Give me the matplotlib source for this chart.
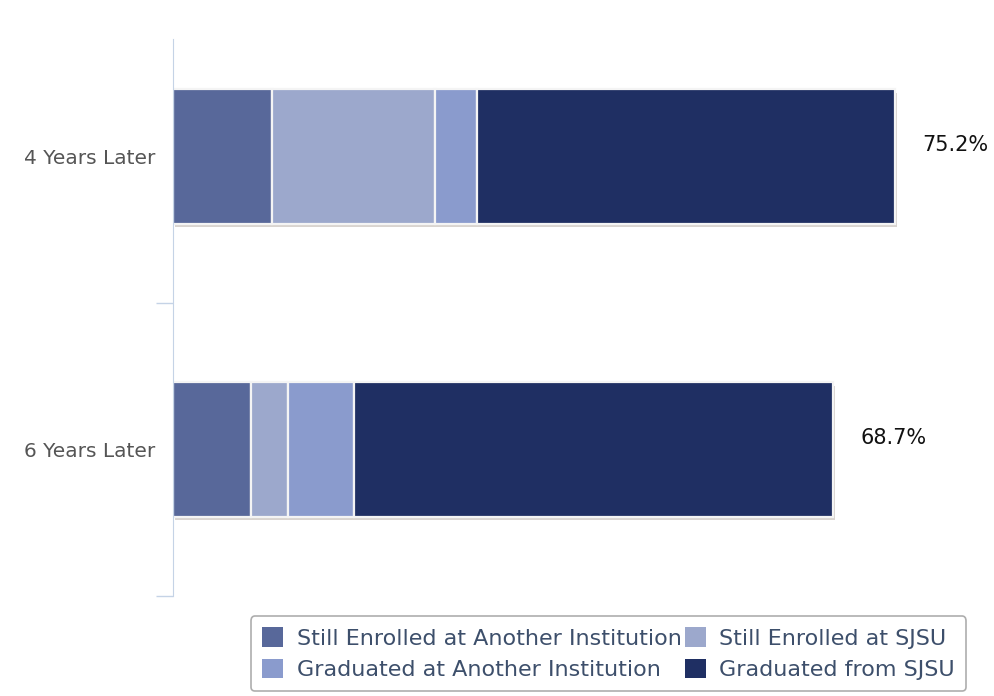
import matplotlib
matplotlib.use("Agg")
import matplotlib.pyplot as plt
from matplotlib.patches import Patch
import numpy as np

categories = ["4 Years Later", "6 Years Later"]
series_names = ["Still Enrolled at Another Institution", "Still Enrolled at SJSU",
                "Graduated at Another Institution", "Graduated from SJSU"]
still_another = [10.3, 8.1]
still_sjsu = [17.0, 3.9]
grad_another = [4.4, 6.9]
grad_sjsu = [43.5, 49.8]
totals = [75.2, 68.7]
total_labels = ["75.2%", "68.7%"]
colors = ["#58689a", "#9ca8cc", "#8a9bcd", "#1f2f63"]

fig = plt.figure(figsize=(9.95, 6.96), dpi=100)
ax = fig.add_axes([173/995, 100/696, 822/995, 586/696])

y = np.arange(len(categories))
series = [still_another, still_sjsu, grad_another, grad_sjsu]
left = np.zeros(len(categories))
bh = 0.46
for vals, c, name in zip(series, colors, series_names):
    vals = np.array(vals)
    # subtle shadow
    ax.barh(y + 0.012, vals, left=left + 0.25, height=bh, color="#d9d4d0",
            edgecolor="none", zorder=1)
    ax.barh(y, vals, left=left, height=bh, color=c, edgecolor="#f4f4f4",
            linewidth=1.6, zorder=2, label=name)
    left += vals

for yi, t, lab in zip(y, totals, total_labels):
    ax.annotate(lab, xy=(t, yi), xytext=(20, 8), textcoords="offset points",
                ha="left", va="center", fontsize=15, color="#111111")

ax.set_xlim(0, 822/9.6)
ax.set_ylim(1.5, -0.5)
ax.set_yticks(y)
ax.set_yticklabels(categories, fontsize=14.5, color="#555555")
ax.set_yticks([0.5, 1.5], minor=True)
ax.tick_params(axis="y", which="major", length=0, pad=13)
ax.tick_params(axis="y", which="minor", length=12, color="#c5d3e6", width=1)
ax.set_xticks([])
for s in ["top", "right", "bottom"]:
    ax.spines[s].set_visible(False)
ax.spines["left"].set_color("#c5d3e6")
ax.spines["left"].set_bounds(1.5, -0.4)

order = [0, 2, 1, 3]
handles = [Patch(facecolor=colors[i], edgecolor="none") for i in order]
leg = fig.legend(handles, [series_names[i] for i in order],
                 ncol=2, loc="lower right", bbox_to_anchor=(966/995, 5/696),
                 fontsize=16, frameon=True, fancybox=True, edgecolor="#999999",
                 handlelength=0.95, handleheight=0.95, handletextpad=0.6,
                 columnspacing=0.15, labelspacing=0.45, borderpad=0.5,
                 borderaxespad=0)
for t in leg.get_texts():
    t.set_color("#3d4f6b")
leg.get_frame().set_linewidth(1.2)

fig.savefig("out.png", dpi=100)
